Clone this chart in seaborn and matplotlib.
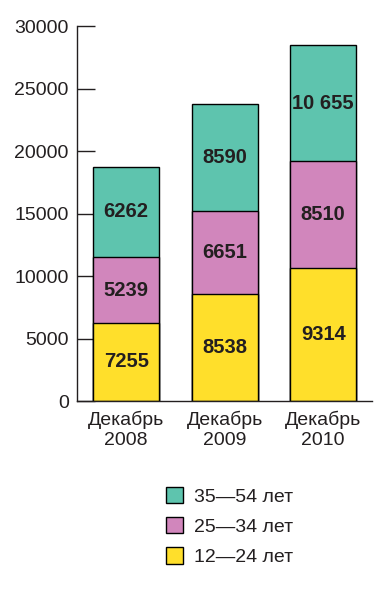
import matplotlib
matplotlib.use("Agg")
import matplotlib.pyplot as plt
import matplotlib.patches as mpatches
import seaborn as sns
import pandas as pd

# Data (segment heights as drawn, and the labels printed on them)
periods = ["Декабрь\n2008", "Декабрь\n2009", "Декабрь\n2010"]
young = [6262, 8538, 10655]      # 12-24
middle = [5239, 6651, 8510]      # 25-34
older = [7255, 8590, 9314]       # 35-54
young_lbl = ["7255", "8538", "9314"]
middle_lbl = ["5239", "6651", "8510"]
older_lbl = ["6262", "8590", "10 655"]
legend_labels = ["35—54 лет", "25—34 лет", "12—24 лет"]
yticks = [0, 5000, 10000, 15000, 20000, 25000, 30000]

c_green = "#5ec4ae"
c_pink = "#d186bc"
c_yellow = "#ffdf2b"

sns.set_style("white")
plt.rcParams["font.family"] = ["Liberation Sans", "DejaVu Sans"]

df = pd.DataFrame({"period": periods, "young": young, "middle": middle, "older": older})
df["lvl1"] = df["young"]
df["lvl2"] = df["young"] + df["middle"]
df["lvl3"] = df["lvl2"] + df["older"]

fig = plt.figure(figsize=(3.92, 5.92), dpi=100)
ax = fig.add_axes([0.1964, 0.3226, 0.7538, 0.6334])

for col, color in [("lvl3", c_green), ("lvl2", c_pink), ("lvl1", c_yellow)]:
    sns.barplot(data=df, x="period", y=col, color=color, width=0.67,
                edgecolor="black", linewidth=1, saturation=1, ax=ax)

# segment labels
for i in range(len(periods)):
    ax.text(i, df["lvl1"][i] / 2, young_lbl[i], ha="center", va="center",
            fontsize=14.5, fontweight="bold", color="#231f20")
    ax.text(i, (df["lvl1"][i] + df["lvl2"][i]) / 2, middle_lbl[i], ha="center",
            va="center", fontsize=14.5, fontweight="bold", color="#231f20")
    ax.text(i, (df["lvl2"][i] + df["lvl3"][i]) / 2, older_lbl[i], ha="center",
            va="center", fontsize=14.5, fontweight="bold", color="#231f20")

ax.set_xlim(-0.5, 2.5)
ax.set_ylim(0, 30000)
ax.set_yticks(yticks)
ax.set_yticklabels([str(v) for v in yticks], fontsize=14, color="#231f20")
ax.set_xticks(range(len(periods)))
ax.set_xticklabels(periods, fontsize=14, color="#231f20", linespacing=1.25)
ax.set_xticks([0.5, 1.5, 2.5], minor=True)
ax.tick_params(axis="x", which="major", length=0, pad=7)
ax.tick_params(axis="x", which="minor", direction="in", length=11, width=1, color="#231f20")
ax.tick_params(axis="y", direction="in", length=13, width=1, color="#231f20", pad=6, left=True)
ax.set_xlabel("")
ax.set_ylabel("")
sns.despine(ax=ax, top=True, right=True)
for s in ["left", "bottom"]:
    ax.spines[s].set_color("#231f20")
    ax.spines[s].set_linewidth(1)

handles = [mpatches.Patch(facecolor=c, edgecolor="black", linewidth=1)
           for c in [c_green, c_pink, c_yellow]]
fig.legend(handles, legend_labels, loc="upper left", bbox_to_anchor=(0.423, 0.178),
           frameon=False, fontsize=14, handlelength=0.88, handleheight=0.93,
           handletextpad=0.55, labelspacing=0.58, borderpad=0, borderaxespad=0,
           labelcolor="#231f20")

fig.savefig("out.png", dpi=100)
